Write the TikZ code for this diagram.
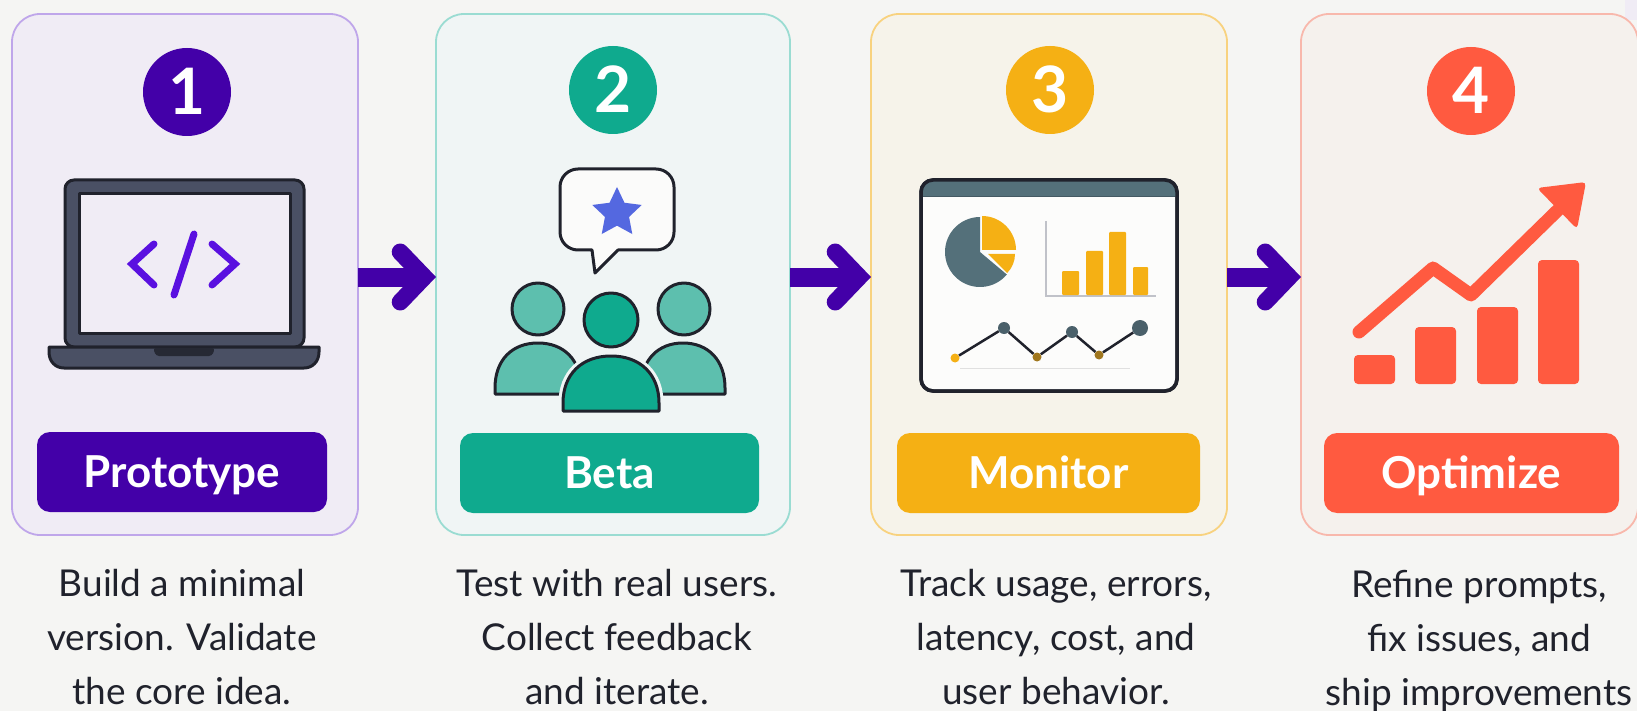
\documentclass[tikz,border=0pt]{standalone}
\usepackage{fontspec}
\setmainfont{Lato}
\usetikzlibrary{shapes.geometric}
\usetikzlibrary{arrows.meta}
\definecolor{pagebg}{HTML}{F5F5F3}
\definecolor{inkdark}{HTML}{20222C}
\definecolor{slatedark}{HTML}{4A5064}
\definecolor{slateteal}{HTML}{54707A}
\definecolor{violetc}{HTML}{4300A8}
\definecolor{codeviolet}{HTML}{5A10E0}
\definecolor{tealc}{HTML}{0FAA8E}
\definecolor{tealsoft}{HTML}{5DBFAE}
\definecolor{amberc}{HTML}{F5B014}
\definecolor{coralc}{HTML}{FF5A40}
\definecolor{starblue}{HTML}{5468E0}
\definecolor{fillv}{HTML}{F0ECF5}
\definecolor{fillt}{HTML}{F0F5F5}
\definecolor{filla}{HTML}{F6F3EA}
\definecolor{fillc}{HTML}{F5F1ED}
\definecolor{edgev}{HTML}{BFA6EA}
\definecolor{edget}{HTML}{9ADCD2}
\definecolor{edgea}{HTML}{F8D27F}
\definecolor{edgec}{HTML}{F8B8AC}
\tikzset{
    panelv/.style = {rectangle, rounded corners=28pt, line width=1.8pt, outer sep=0pt, minimum width=346pt, minimum height=521pt, draw=edgev, fill=fillv},
    panelt/.style = {panelv, minimum width=354pt, draw=edget, fill=fillt},
    panela/.style = {panelv, minimum width=356pt, draw=edgea, fill=filla},
    panelc/.style = {panelv, minimum width=337pt, draw=edgec, fill=fillc},
    stepdot/.style = {circle, minimum size=88pt, inner sep=0pt, text=white, text height=46pt, text depth=0pt, font=\fontsize{64}{64}\selectfont\bfseries},
    stepname/.style = {rectangle, rounded corners=13pt, minimum height=80pt, inner sep=0pt, text=white, text height=31pt, text depth=0pt, font=\fontsize{44}{44}\selectfont\bfseries},
    blurb/.style = {align=center, inner sep=0pt, text=inkdark, font=\fontsize{37}{54}\selectfont},
    flowarrow/.style = {line width=19pt, violetc, -{Straight Barb[length=24pt,width=50pt,line width=17pt,line cap=round,line join=miter]}},
    codeline/.style = {line width=7pt, line cap=round, line join=miter, codeviolet},
    iconline/.style = {line width=3pt, draw=inkdark, line join=round},
    upline/.style = {line width=13pt, line cap=round, line join=round, coralc},
    upbar/.style = {coralc, rounded corners=4pt},
    kpibar/.style = {amberc, rounded corners=1pt},
    ptsmall/.style = {circle, inner sep=0pt, minimum size=9pt, fill=amberc!60!inkdark},
    ptlarge/.style = {circle, inner sep=0pt, minimum size=12pt, fill=slateteal!80!inkdark}
}
\begin{document}
\begin{tikzpicture}[x=1pt,y=-1pt]
\useasboundingbox (0,0) rectangle (1637,711);
\fill[pagebg] (0,0) rectangle (1637,711);
\fill[fillv] (1625,0) rectangle (1637,20);

\node[panelv] at (185,274.5) (panel1) {};
\node[panelt] at (613,274.5) (panel2) {};
\node[panela] at (1049,274.5) (panel3) {};
\node[panelc] at (1469.5,274.5) (panel4) {};

\node[stepdot, fill=violetc] at (187,92) (dot1) {1};
\node[stepdot, fill=tealc] at (613,90) (dot2) {2};
\node[stepdot, fill=amberc] at (1050,90) (dot3) {3};
\node[stepdot, fill=coralc] at (1471,91) (dot4) {4};

\node[stepname, fill=violetc, minimum width=290pt] at (182,472) (name1) {Prototype};
\node[stepname, fill=tealc, minimum width=299pt] at (609.5,473) (name2) {Beta};
\node[stepname, fill=amberc, minimum width=303pt] at (1048.5,473) (name3) {Monitor};
\node[stepname, fill=coralc, minimum width=295pt] at (1471.5,473) (name4) {Optimize};

\node[blurb] at (182,637) (text1) {Build a minimal\\version. Validate\\the core idea.};
\node[blurb] at (617,637) (text2) {Test with real users.\\Collect feedback\\and iterate.};
\node[blurb] at (1056,637) (text3) {Track usage, errors,\\latency, cost, and\\user behavior.};
\node[blurb] at (1479,641) (text4) {Refine prompts,\\fix issues, and\\ship improvements};

\draw[flowarrow] ([yshift=-2.5pt]panel1.east) -- ([yshift=-2.5pt]panel2.west);
\draw[flowarrow] ([yshift=-2.5pt]panel2.east) -- ([yshift=-2.5pt]panel3.west);
\draw[flowarrow] ([yshift=-2.5pt]panel3.east) -- ([yshift=-2.5pt]panel4.west);

% laptop
\draw[iconline, fill=slatedark, rounded corners=9pt] (65,347) -- (65,180) -- (304,180) -- (304,347) -- cycle;
\draw[iconline, fill=fillv] (79,194) rectangle (290,333);
\draw[iconline, fill=slatedark] (49,347) -- (319,347) -- (319,352) .. controls (319,362) and (312,368) .. (304,368) -- (64,368) .. controls (56,368) and (49,362) .. (49,352) -- cycle;
\fill[inkdark!85!slatedark, rounded corners=3pt] (153,348) -- (215,348) -- (212,356) -- (156,356) -- cycle;
\draw[codeline] (154,244) -- (132,264) -- (154,285);
\draw[codeline] (194,234) -- (174,295);
\draw[codeline] (212,244) -- (235,264) -- (212,285);

% speech bubble and people
\draw[iconline, fill=white!60!pagebg] (618,250) [rounded corners=18pt] -- (674,250) -- (674,169) -- (560,169) -- (560,250) [sharp corners] -- (592,250) -- (595,273) -- cycle;
\node[star, star points=5, star point ratio=2.05, minimum size=52pt, inner sep=0pt, fill=starblue] at (617,213) (badge) {};
\draw[iconline, fill=tealsoft] (538,309) circle[radius=26];
\draw[iconline, fill=tealsoft] (684,309) circle[radius=26];
\draw[iconline, fill=tealsoft] (495,394) -- (495,388) .. controls (495,360) and (512,343) .. (538,343) .. controls (564,343) and (581,360) .. (581,388) -- (581,394) -- cycle;
\draw[iconline, fill=tealsoft] (641,394) -- (641,388) .. controls (641,360) and (658,343) .. (683,343) .. controls (708,343) and (725,360) .. (725,388) -- (725,394) -- cycle;
\draw[line width=9pt, draw=fillt] (563,411) -- (563,403) .. controls (563,374) and (582,356) .. (611,356) .. controls (640,356) and (659,374) .. (659,403) -- (659,411) -- cycle;
\draw[iconline, fill=tealc] (563,411) -- (563,403) .. controls (563,374) and (582,356) .. (611,356) .. controls (640,356) and (659,374) .. (659,403) -- (659,411) -- cycle;
\draw[iconline, fill=tealc] (611,320) circle[radius=27];

% dashboard
\draw[line width=3.5pt, draw=inkdark, fill=white!70!pagebg, rounded corners=12pt] (921,180) rectangle (1177,391);
\fill[slateteal] (922,197) -- (922,192) .. controls (922,185) and (926,181) .. (933,181) -- (1165,181) .. controls (1172,181) and (1176,185) .. (1176,192) -- (1176,197) -- cycle;
\draw[line width=1pt, draw=slateteal!70!inkdark] (922,197) -- (1176,197);
\draw[line width=3.5pt, draw=inkdark, rounded corners=12pt] (921,180) rectangle (1177,391);
\fill[slateteal] (980,252) -- +(40:35) arc[start angle=40, end angle=270, radius=35] -- cycle;
\fill[amberc] (982,250) -- +(270:34) arc[start angle=270, end angle=360, radius=34] -- cycle;
\fill[amberc] (988,254) -- +(0:27) arc[start angle=0, end angle=45, radius=27] -- cycle;
\draw[line width=1.5pt, draw=slatedark!35!white] (1046,221) -- (1046,296) -- (1156,296);
\fill[kpibar] (1062,271) rectangle (1079,295);
\fill[kpibar] (1086,251) rectangle (1103,295);
\fill[kpibar] (1109,232) rectangle (1126,295);
\fill[kpibar] (1133,267) rectangle (1148,295);
\draw[line width=1pt, draw=black!12] (960,368) -- (1130,368);
\node[ptsmall, fill=amberc] at (955,358) (pt1) {};
\node[ptlarge] at (1004,328) (pt2) {};
\node[ptsmall] at (1037,357) (pt3) {};
\node[ptlarge] at (1072,332) (pt4) {};
\node[ptsmall] at (1099,355) (pt5) {};
\node[ptlarge, minimum size=16pt] at (1140,328) (pt6) {};
\draw[line width=2.5pt, inkdark] (pt1) -- (pt2) -- (pt3) -- (pt4) -- (pt5) -- (pt6);

% growth chart
\fill[upbar] (1354,355) rectangle (1395,384);
\fill[upbar] (1415,327) rectangle (1456,384);
\fill[upbar] (1477,307) rectangle (1518,384);
\fill[upbar] (1538,260) rectangle (1579,384);
\draw[upline] (1359,332) -- (1433,268) -- (1471,295) -- (1560,208);
\fill[coralc, rounded corners=4pt] (1586,182) -- (1537,188) -- (1577,229) -- cycle;
\end{tikzpicture}
\end{document}
